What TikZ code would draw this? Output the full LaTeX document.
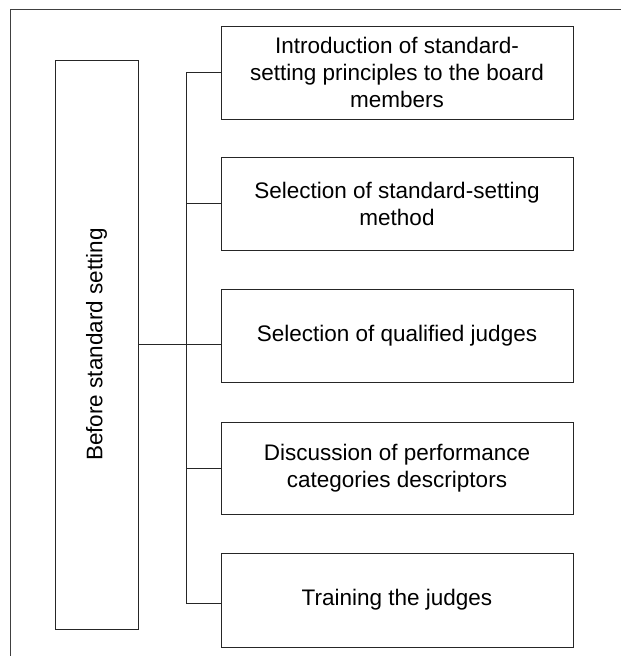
\documentclass[tikz,border=0pt]{standalone}
\usepackage{fontspec}
\setmainfont{Liberation Sans}
\usepackage{graphicx}
\begin{document}
\begin{tikzpicture}[x=1pt,y=-1pt,
  conn/.style={draw=black!85,line width=0.9pt},
  itembox/.style={draw=black!85,line width=0.9pt,minimum width=352pt,align=center,
    font=\fontsize{22.5}{27}\selectfont,inner sep=0pt},
  mainbox/.style={draw=black!85,line width=0.9pt,minimum width=83pt,minimum height=569pt,
    font=\fontsize{22.5}{27}\selectfont,inner sep=0pt}]
\useasboundingbox (0,0) rectangle (621,656);
\draw[draw=black!75,line width=0.9pt] (10,656) -- (10,9) -- (621,9);
\node[mainbox] (L) at (96.5,344.5) {\rotatebox{90}{Before standard setting}};
\node[itembox,minimum height=93pt] (B1) at (397,72.5) {Introduction of standard-\\setting principles to the board\\members};
\node[itembox,minimum height=93pt] (B2) at (397,203.5) {Selection of standard-setting\\method};
\node[itembox,minimum height=93pt] (B3) at (397,335.5) {Selection of qualified judges};
\node[itembox,minimum height=92pt] (B4) at (397,468) {Discussion of performance\\categories descriptors};
\node[itembox,minimum height=94pt] (B5) at (397,600) {Training the judges};
\coordinate (T1) at (186,72);
\coordinate (T5) at (186,603);
\draw[conn] (B1.west |- T1) -- (T1) -- (T5) -- (B5.west |- T5);
\draw[conn] (B2.west) -- (B2.west -| T1);
\draw[conn] (B4.west) -- (B4.west -| T1);
\draw[conn] (L.east) -- (B3.west |- L.east);
\end{tikzpicture}
\end{document}
